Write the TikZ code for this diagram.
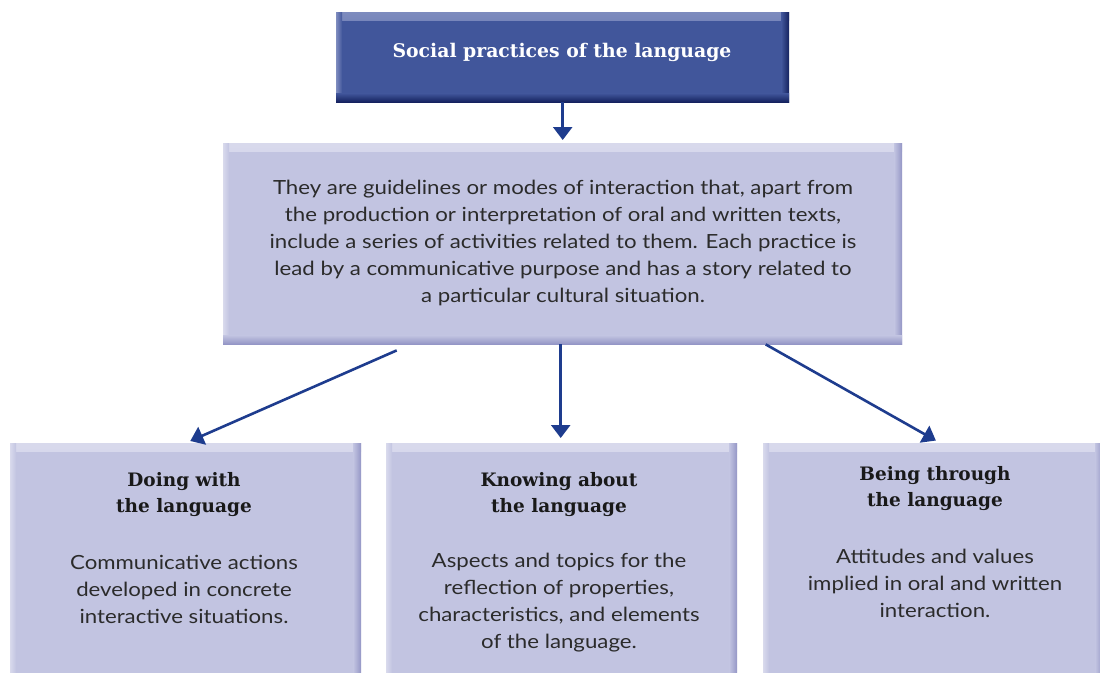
\documentclass[tikz,border=0pt]{standalone}
\usepackage{fontspec}
\newfontfamily\bodyfont[FakeStretch=1.14]{Lato}
\newfontfamily\headfont{DejaVu Serif}
\usetikzlibrary{arrows.meta}
\definecolor{topfill}{HTML}{41569B}
\definecolor{tophi}{HTML}{7D8BBE}
\definecolor{toplo}{HTML}{14215E}
\definecolor{boxfill}{HTML}{C2C4E1}
\definecolor{boxhi}{HTML}{D8D9EC}
\definecolor{boxlo}{HTML}{9395C5}
\definecolor{arrowcol}{HTML}{1E3C8E}
\definecolor{bodytext}{HTML}{2B2B2B}
\begin{document}
\begin{tikzpicture}[x=1pt,y=-1pt,
  bevel/.style n args={3}{fill=#1, draw=none, inner sep=0pt,
    path picture={
      \shade[top color=#2, bottom color=#1] (path picture bounding box.north west) rectangle ([yshift=-8pt]path picture bounding box.north east);
      \shade[left color=#2, right color=#1] (path picture bounding box.north west) rectangle ([xshift=6pt]path picture bounding box.south west);
      \shade[left color=#1, right color=#3] ([xshift=-8pt]path picture bounding box.north east) rectangle (path picture bounding box.south east);
      \shade[top color=#1, bottom color=#3] ([yshift=9pt]path picture bounding box.south west) rectangle (path picture bounding box.south east);
    }},
  darkbox/.style={bevel={topfill}{tophi}{toplo}},
  lightbox/.style={bevel={boxfill}{boxhi}{boxlo}},
  conn/.style={draw=arrowcol, line width=2.6pt, -{Triangle[width=19pt,length=13pt]}},
  headtxt/.style={font=\headfont\fontsize{18.5}{26}\selectfont\bfseries, align=center, text=black!90, inner sep=0pt},
  bodytxt/.style={font=\bodyfont\fontsize{19.5}{27}\selectfont, align=center, text=bodytext, inner sep=0pt}
]
\useasboundingbox (0,0) rectangle (1100,672);
\fill[white] (0,0) rectangle (1100,672);

\node[darkbox, anchor=north west, minimum width=453pt, minimum height=90pt] (top) at (336,12) {};
\node[font=\headfont\fontsize{18.8}{24}\selectfont\bfseries, text=white, inner sep=0pt] (toptxt) at (562,52) {Social practices of the language};

\node[lightbox, anchor=north west, minimum width=679pt, minimum height=201pt] (mid) at (223,143) {};
\node[bodytxt] (midtxt) at (563,243) {They are guidelines or modes of interaction that, apart from\\ the production or interpretation of oral and written texts,\\ include a series of activities related to them. Each practice is\\ lead by a communicative purpose and has a story related to\\ a particular cultural situation.};

\node[lightbox, anchor=north west, minimum width=351pt, minimum height=240pt] (left) at (10,443) {};
\node[lightbox, anchor=north west, minimum width=351pt, minimum height=240pt] (center) at (386,443) {};
\node[lightbox, anchor=north west, minimum width=340pt, minimum height=240pt] (right) at (763,443) {};

\node[headtxt] (lh) at (184,495) {Doing with\\ the language};
\node[bodytxt] (lb) at (184,589) {Communicative actions\\ developed in concrete\\ interactive situations.};
\node[headtxt] (ch) at (559,495) {Knowing about\\ the language};
\node[bodytxt] (cb) at (559,603) {Aspects and topics for the\\ reflection of properties,\\ characteristics, and elements\\ of the language.};
\node[headtxt] (rh) at (935,489) {Being through\\ the language};
\node[bodytxt] (rb) at (935,583) {Attitudes and values\\ implied in oral and written\\ interaction.};

\draw[conn, shorten >=3pt] (top.south) -- (mid.north);
\draw[conn, shorten >=5pt] ([xshift=-166pt,yshift=-6pt]mid.south) -- ([xshift=0pt]left.north);
\draw[conn, shorten >=5pt] ([xshift=-2pt]mid.south) -- ([xshift=-1pt]center.north);
\draw[conn, shorten >=5pt] ([xshift=203pt]mid.south) -- ([xshift=7pt]right.north);
\end{tikzpicture}
\end{document}
